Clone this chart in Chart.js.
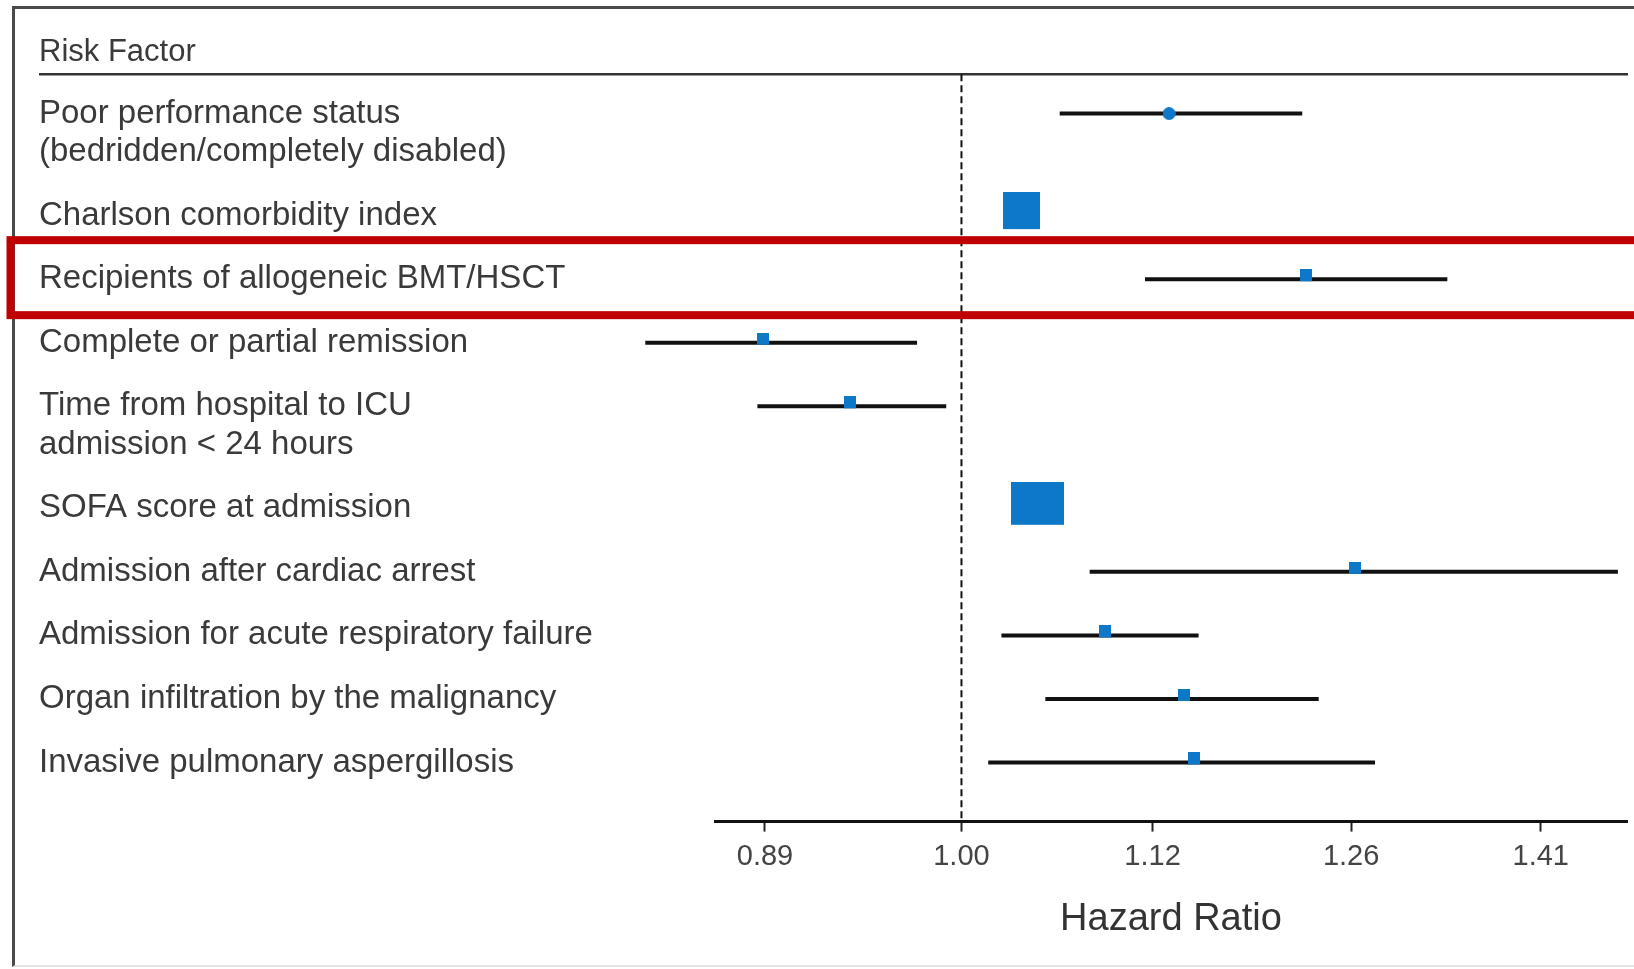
<!DOCTYPE html>
<html lang="en">
<head>
    <meta charset="UTF-8">
    <title>Risk Factors and Hazard Ratio</title>
    <script src="https://cdn.jsdelivr.net/npm/chart.js"></script>
    <style>
        html, body { margin: 0; padding: 0; background: #fff; overflow: hidden; }
        .wrap { position: relative; width: 1634px; height: 969px; }
        /* thin frame round the figure (left and top edges) */
        .frame {
            position: absolute; left: 12px; top: 6px; right: -10px; bottom: 2px;
            border-left: 3px solid #4a4a4a;
            border-top: 3px solid #4a4a4a;
            border-bottom: 2px solid #e4e4e4;
        }
        canvas { position: absolute; left: 0; top: 0; }
    </style>
</head>
<body>
<div class="wrap">
    <div class="frame"></div>
    <canvas id="forestChart" width="1634" height="969"></canvas>
</div>

<script>
    // Risk factors (two-line labels are arrays)
    const riskFactors = [
        ['Poor performance status', '(bedridden/completely disabled)'],
        'Charlson comorbidity index',
        'Recipients of allogeneic BMT/HSCT',
        'Complete or partial remission',
        ['Time from hospital to ICU', 'admission < 24 hours'],
        'SOFA score at admission',
        'Admission after cardiac arrest',
        'Admission for acute respiratory failure',
        'Organ infiltration by the malignancy',
        'Invasive pulmonary aspergillosis'
    ];
    // Hazard ratio and 95% CI
    const hazardRatio = [1.131, 1.036, 1.227, 0.889, 0.936, 1.046, 1.263, 1.089, 1.141, 1.148];
    const ciLower     = [1.060, 1.030, 1.115, 0.829, 0.886, 1.038, 1.079, 1.024, 1.051, 1.016];
    const ciUpper     = [1.224, 1.042, 1.334, 0.974, 0.991, 1.054, 1.476, 1.151, 1.236, 1.278];
    const hrTicks = [0.89, 1.00, 1.12, 1.26, 1.41];
    const refValue = 1.00;
    const highlightRow = 2;

    // marker look: box size grows with the weight of the estimate,
    // boxes sit a little above the CI line
    const markerW    = [13, 37, 12, 12, 12, 53, 12, 12, 12, 12];
    const markerH    = [13, 37, 12, 12, 12, 43, 12, 12, 12, 12];
    const markerLift = [0, 5, 4, 4, 4, 5, 4, 4, 4, 4];
    const markerRound = [true, false, false, false, false, false, false, false, false, false];
    const markerColor = '#0d78c8';

    function makeMarker(w, h, lift, round) {
        const c = document.createElement('canvas');
        c.width = w;
        c.height = h + 2 * lift;
        const g = c.getContext('2d');
        g.fillStyle = markerColor;
        if (round) {
            g.beginPath();
            g.ellipse(w / 2, h / 2, w / 2, h / 2, 0, 0, Math.PI * 2);
            g.fill();
        } else {
            g.fillRect(0, 0, w, h);
        }
        return c;
    }
    const markerImages = markerW.map((w, i) => makeMarker(w, markerH[i], markerLift[i], markerRound[i]));

    // vertical layout: one unit per row, plus extra room for each extra label line
    const lineStep = 0.605;
    const rowPos = [];
    riskFactors.forEach((f, i) => {
        if (i === 0) { rowPos.push(0); return; }
        const prev = riskFactors[i - 1];
        const extra = Array.isArray(prev) ? prev.length - 1 : 0;
        rowPos.push(rowPos[i - 1] + 1 + extra * lineStep);
    });
    const yMin = -0.62, yMax = 11.14;

    const FONT = "'Liberation Sans', Arial, sans-serif";
    Chart.defaults.font.family = FONT;

    // rule under the "Risk Factor" header
    const headerRule = {
        id: 'headerRule',
        beforeDatasetsDraw(chart) {
            const { ctx, chartArea, scales } = chart;
            ctx.save();
            ctx.strokeStyle = '#333';
            ctx.lineWidth = 2.5;
            ctx.beginPath();
            ctx.moveTo(scales.y.left, chartArea.top);
            ctx.lineTo(chartArea.right + 1, chartArea.top);
            ctx.stroke();
            ctx.restore();
        }
    };

    // red box round the highlighted row
    const rowHighlight = {
        id: 'rowHighlight',
        afterDraw(chart) {
            const { ctx } = chart;
            const y = chart.scales.y.getPixelForValue(rowPos[highlightRow]);
            ctx.save();
            ctx.strokeStyle = '#c00000';
            ctx.lineWidth = 8;
            ctx.strokeRect(10.5, y - 39, chart.width + 20, 75);
            ctx.restore();
        }
    };

    const ciDatasets = riskFactors.map((f, i) => ({
        type: 'scatter',
        showLine: true,
        data: [{ x: ciLower[i], y: rowPos[i] }, { x: ciUpper[i], y: rowPos[i] }],
        borderColor: '#111',
        borderWidth: 4,
        pointRadius: 0,
        clip: false,
        order: 1
    }));

    new Chart(document.getElementById('forestChart'), {
        type: 'scatter',
        data: {
            datasets: [
                {
                    data: hazardRatio.map((v, i) => ({ x: v, y: rowPos[i] })),
                    pointStyle: markerImages,
                    pointRadius: 6,
                    clip: false,
                    order: -1
                },
                ...ciDatasets,
                {
                    showLine: true,
                    data: [{ x: refValue, y: yMin }, { x: refValue, y: yMax }],
                    borderColor: '#111',
                    borderWidth: 2,
                    borderDash: [7, 4],
                    pointRadius: 0,
                    order: 2
                }
            ]
        },
        options: {
            responsive: false,
            animation: false,
            layout: { padding: { left: 39, right: 4, top: 0, bottom: 27 } },
            plugins: {
                legend: { display: false },
                tooltip: { enabled: false },
                title: {
                    display: true,
                    text: 'Risk Factor',
                    align: 'start',
                    color: '#3a3a3a',
                    font: { size: 31, weight: 'normal' },
                    padding: { top: 34, bottom: 3 }
                }
            },
            scales: {
                x: {
                    type: 'logarithmic',
                    position: 'bottom',
                    bounds: 'data',
                    min: 0.864,
                    max: 1.484,
                    afterBuildTicks: s => { s.ticks = hrTicks.map(v => ({ value: v })); },
                    // axis runs the full plot width, no room kept for edge labels
                    afterFit: s => { s.paddingLeft = 0; s.paddingRight = 0; },
                    ticks: {
                        callback: v => Number(v).toFixed(2),
                        autoSkip: false,
                        maxRotation: 0,
                        padding: 8,
                        color: '#444',
                        font: { size: 29 }
                    },
                    grid: {
                        drawOnChartArea: false,
                        drawTicks: true,
                        tickLength: 10,
                        tickWidth: 2,
                        tickColor: '#222'
                    },
                    border: { display: true, color: '#111', width: 3 },
                    title: {
                        display: true,
                        text: 'Hazard Ratio',
                        color: '#333',
                        font: { size: 38 },
                        padding: { top: 14, bottom: 0 }
                    }
                },
                y: {
                    type: 'linear',
                    reverse: true,
                    min: yMin,
                    max: yMax,
                    afterBuildTicks: s => { s.ticks = rowPos.map(v => ({ value: v })); },
                    afterFit: s => { s.width = 676; },
                    ticks: {
                        autoSkip: false,
                        crossAlign: 'far',
                        color: '#3a3a3a',
                        font: { size: 33, lineHeight: 1.17 },
                        // blank first line keeps the first text line level with the marker
                        callback: (v, i) => Array.isArray(riskFactors[i]) ? ['', ...riskFactors[i]] : riskFactors[i]
                    },
                    grid: { display: false },
                    border: { display: false }
                }
            }
        },
        plugins: [headerRule, rowHighlight]
    });
</script>
</body>
</html>
